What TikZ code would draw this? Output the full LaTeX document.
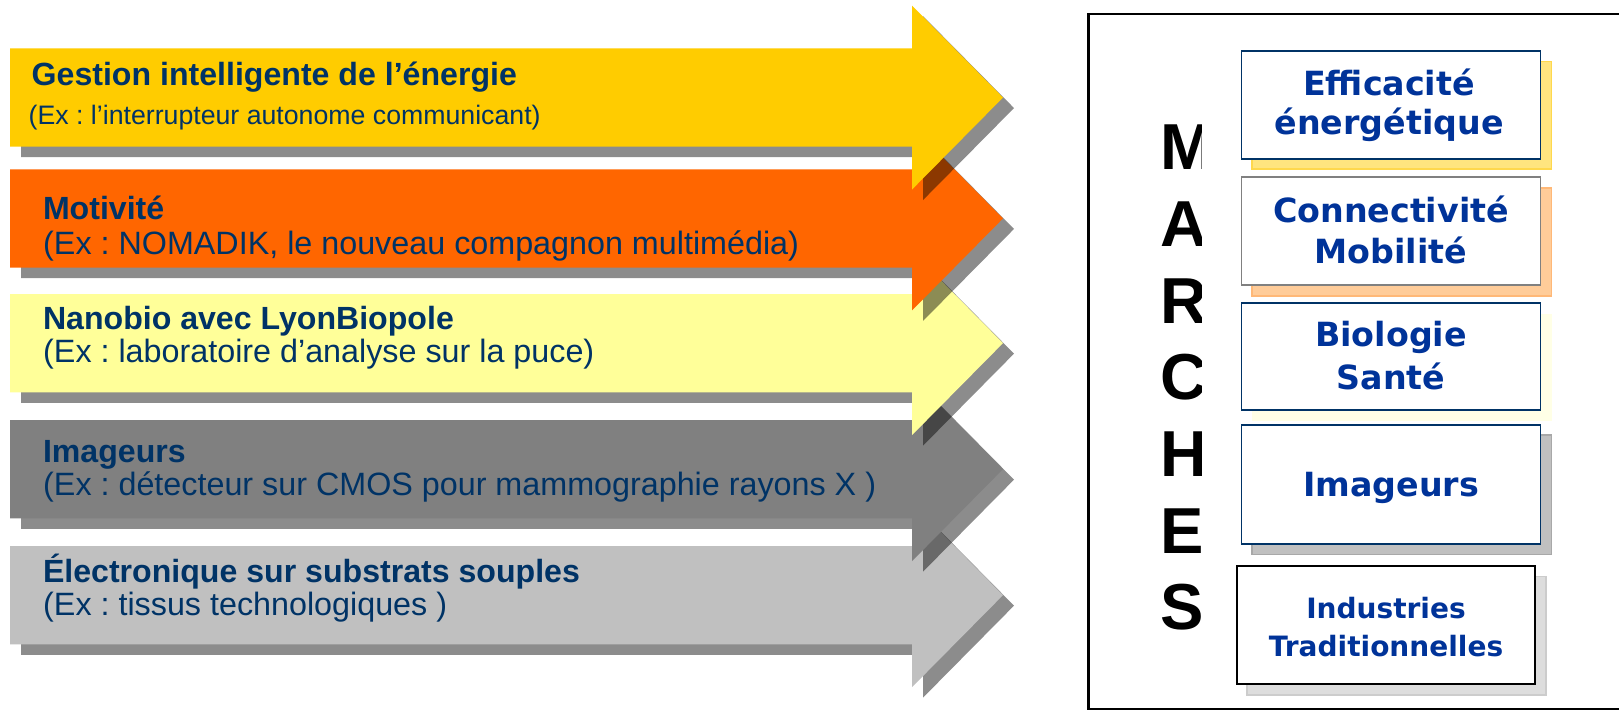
\documentclass[tikz,border=0pt]{standalone}
\usepackage{fontspec}
\setmainfont{Liberation Sans}
\newfontfamily\boxfont{DejaVu Sans}
\frenchspacing
\definecolor{ayellow}{HTML}{FFCC00}
\definecolor{aorange}{HTML}{FF6600}
\definecolor{alight}{HTML}{FFFF99}
\definecolor{agray}{HTML}{808080}
\definecolor{alightgray}{HTML}{C0C0C0}
\definecolor{navy}{HTML}{003366}
\definecolor{mblue}{HTML}{003399}
\definecolor{shyellow}{HTML}{FFE57F}
\definecolor{shyellowb}{HTML}{FFD84D}
\definecolor{shpeach}{HTML}{FFCC99}
\definecolor{shpeachb}{HTML}{FFB877}
\definecolor{shpale}{HTML}{FFFFE6}
\definecolor{shgray}{HTML}{C0C0C0}
\definecolor{shgrayb}{HTML}{A8A8A8}
\definecolor{shlight}{HTML}{DDDDDD}
\definecolor{shlightb}{HTML}{CCCCCC}
\begin{document}
\begin{tikzpicture}[x=1pt,y=-1pt,
  titletext/.style={inner sep=0pt,anchor=base west,text=navy,font=\fontsize{32.1}{32.1}\selectfont\bfseries},
  extext/.style={inner sep=0pt,anchor=base west,text=navy,font=\fontsize{32.3}{32.3}\selectfont},
  boxtext/.style={inner sep=0pt,anchor=base,text=mblue,font=\boxfont\fontsize{33.3}{33.3}\selectfont\bfseries},
  smallboxtext/.style={boxtext,font=\boxfont\fontsize{28}{28}\selectfont\bfseries},
  letter/.style={inner sep=0pt,anchor=base west,font=\fontsize{65}{65}\selectfont\bfseries},
  marketbox/.style={draw=navy,line width=1.8pt,fill=white},
  shadowbox/.style={line width=1.5pt}]
\useasboundingbox (0,0) rectangle (1619,711);
\fill[white] (0,0) rectangle (1619,711);
% arrows, bottom first
\foreach \t/\c in {546/alightgray, 420/agray, 294/alight, 169.3/aorange, 48.4/ayellow} {
  \pgfmathsetmacro\b{\t+98.3}
  \pgfmathsetmacro\m{\t+49.15}
  \pgfmathsetmacro\ht{\m-92}
  \pgfmathsetmacro\hb{\m+92}
  \fill[black,opacity=0.45,shift={(11,10.5)}] (10,\t) -- (912,\t) -- (912,\ht) -- (1003,\m) -- (912,\hb) -- (912,\b) -- (10,\b) -- cycle;
  \fill[\c] (10,\t) -- (912,\t) -- (912,\ht) -- (1003,\m) -- (912,\hb) -- (912,\b) -- (10,\b) -- cycle;
}
% arrow texts
\node[titletext] (t1) at (31.5,86) {Gestion intelligente de l’énergie};
\node[extext,font=\fontsize{26.7}{26.7}\selectfont] (e1) at (28.5,125) {(Ex : l’interrupteur autonome communicant)};
\node[titletext] (t2) at (42.8,220) {Motivité};
\node[extext] (e2) at (43,255) {(Ex : NOMADIK, le nouveau compagnon multimédia)};
\node[titletext] (t3) at (42.8,329) {Nanobio avec LyonBiopole};
\node[extext] (e3) at (43,362) {(Ex : laboratoire d’analyse sur la puce)};
\node[titletext] (t4) at (42.8,462) {Imageurs};
\node[extext] (e4) at (43,495) {(Ex : détecteur sur CMOS pour mammographie rayons X )};
\node[titletext] (t5) at (42.8,582) {Électronique sur substrats souples};
\node[extext] (e5) at (43,615) {(Ex : tissus technologiques )};
% frame
\draw[line width=2.3pt] (1088.6,14) rectangle (1630,709.3);
% MARCHES
\begin{scope}
\clip (1100,100) rectangle (1201,660);
\node[letter] (lM) at (1160,170) {M};
\node[letter] (lA) at (1160,246.7) {A};
\node[letter] (lR) at (1160,323.3) {R};
\node[letter] (lC) at (1160,399.5) {C};
\node[letter] (lH) at (1160,476.5) {H};
\node[letter] (lE) at (1160,553) {E};
\node[letter] (lS) at (1160,629.5) {S};
\end{scope}
% market boxes
\draw[shadowbox,fill=shyellow,draw=shyellowb] (1252,61.7) rectangle (1551.5,169);
\draw[marketbox] (1241.5,51) rectangle (1540.5,159);
\draw[shadowbox,fill=shpeach,draw=shpeachb] (1252,188) rectangle (1551.5,296);
\draw[marketbox,draw=agray] (1241.5,177) rectangle (1540.5,285);
\fill[shpale] (1252,313.5) rectangle (1551.5,421);
\draw[marketbox] (1241.5,303) rectangle (1540.5,410);
\draw[shadowbox,fill=shgray,draw=shgrayb] (1252,435) rectangle (1551.5,554.7);
\draw[marketbox] (1241.5,424.7) rectangle (1540.5,544);
\draw[shadowbox,fill=shlight,draw=shlightb] (1247,576.7) rectangle (1546,695);
\draw[marketbox,draw=black,line width=2.4pt] (1236.7,565.7) rectangle (1535,684);
% box texts
\node[boxtext] (b1a) at (1389,96) {Efficacité};
\node[boxtext] (b1b) at (1389,135) {énergétique};
\node[boxtext] (b2a) at (1391,222.7) {Connectivité};
\node[boxtext] (b2b) at (1391,263.3) {Mobilité};
\node[boxtext] (b3a) at (1391,346.7) {Biologie};
\node[boxtext] (b3b) at (1391,389.3) {Santé};
\node[boxtext] (b4a) at (1391,496.7) {Imageurs};
\node[smallboxtext] (b5a) at (1386,618) {Industries};
\node[smallboxtext] (b5b) at (1386,656) {Traditionnelles};
\end{tikzpicture}
\end{document}
